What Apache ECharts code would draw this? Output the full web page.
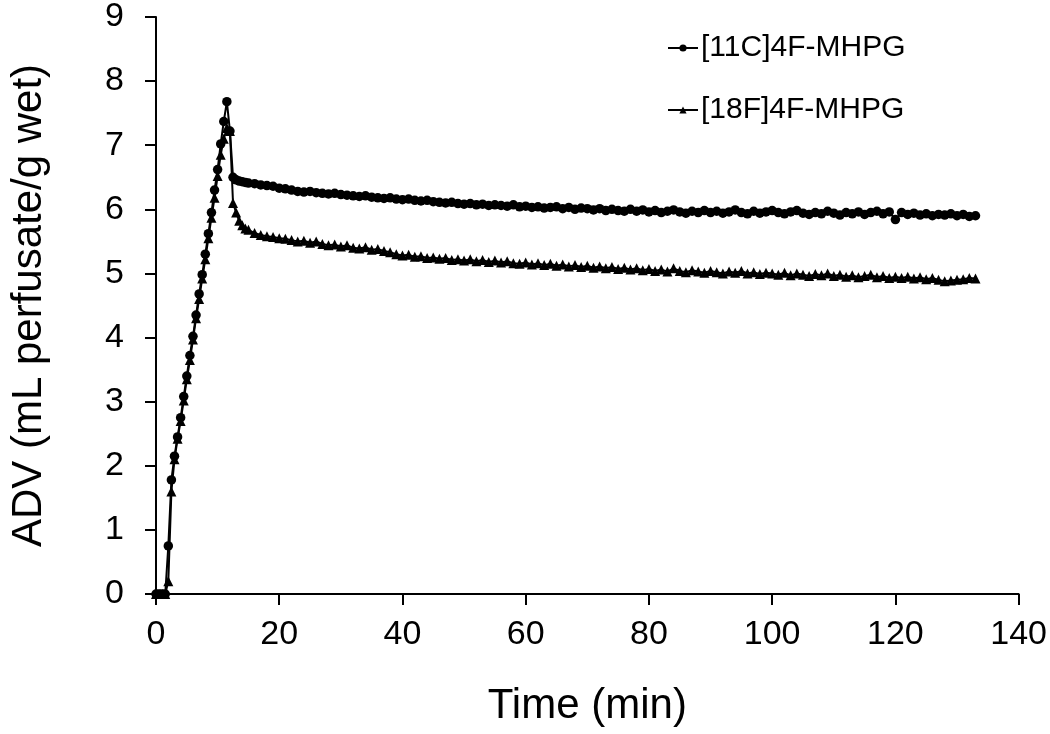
<!DOCTYPE html>
<html>
<head>
<meta charset="utf-8">
<script src="https://cdn.jsdelivr.net/npm/echarts@6/dist/echarts.min.js"></script>
<style>
html,body{margin:0;padding:0;background:#fff;}
#chart{width:1050px;height:734px;}
</style>
</head>
<body>
<div id="chart"></div>
<script>
// Time (min)
const times = [
  0,0.5,1,1.5,2,2.5,3,3.5,4,4.5,5,5.5,6,6.5,7,7.5,8,8.5,9,9.5,10,10.5,11,11.5,12,12.5,13,13.5,14,14.5,
  15,16,17,18,19,20,21,22,23,24,
  25,26,27,28,29,30,31,32,33,34,
  35,36,37,38,39,40,41,42,43,44,
  45,46,47,48,49,50,51,52,53,54,
  55,56,57,58,59,60,61,62,63,64,
  65,66,67,68,69,70,71,72,73,74,
  75,76,77,78,79,80,81,82,83,84,
  85,86,87,88,89,90,91,92,93,94,
  95,96,97,98,99,100,101,102,103,104,
  105,106,107,108,109,110,111,112,113,114,
  115,116,117,118,119,120,121,122,123,124,
  125,126,127,128,129,130,131,132,133
];
// [11C]4F-MHPG ADV
const c11 = [
  0,0,0,0,0.75,1.78,2.15,2.45,2.75,3.08,3.40,3.72,4.02,4.35,4.68,4.98,5.30,5.62,5.95,6.30,6.62,7.02,7.37,7.68,7.22,6.50,6.46,6.44,6.43,6.42,
  6.41,6.40,6.38,6.37,6.36,6.33,6.32,6.30,6.28,6.27,
  6.28,6.26,6.25,6.24,6.25,6.23,6.22,6.21,6.20,6.21,
  6.19,6.18,6.17,6.18,6.16,6.15,6.16,6.14,6.13,6.14,
  6.12,6.11,6.10,6.11,6.09,6.08,6.09,6.07,6.08,6.06,
  6.07,6.06,6.05,6.07,6.04,6.05,6.03,6.04,6.02,6.03,
  6.04,6.01,6.03,6.00,6.02,6.01,5.99,6.01,5.98,6.00,
  5.98,5.97,6.00,5.97,5.99,5.96,5.98,5.95,5.97,5.99,
  5.96,5.94,5.97,5.95,5.98,5.95,5.97,5.94,5.96,5.99,
  5.95,5.93,5.97,5.94,5.96,5.98,5.95,5.93,5.96,5.98,
  5.94,5.92,5.95,5.93,5.97,5.94,5.91,5.95,5.93,5.96,
  5.92,5.95,5.97,5.93,5.96,5.84,5.95,5.92,5.94,5.91,
  5.93,5.90,5.92,5.91,5.93,5.90,5.92,5.89,5.90
];
// [18F]4F-MHPG ADV
const f18 = [
  0,0,0,0,0.20,1.60,2.10,2.42,2.70,3.02,3.35,3.65,3.97,4.30,4.60,4.92,5.22,5.55,5.87,6.18,6.52,6.85,7.10,7.27,7.22,6.10,5.95,5.82,5.75,5.70,
  5.68,5.63,5.60,5.58,5.57,5.55,5.54,5.52,5.50,5.51,
  5.48,5.50,5.46,5.44,5.45,5.42,5.44,5.40,5.39,5.41,
  5.37,5.38,5.35,5.33,5.30,5.28,5.29,5.26,5.27,5.24,
  5.25,5.23,5.24,5.21,5.22,5.20,5.22,5.19,5.21,5.18,
  5.20,5.17,5.19,5.16,5.15,5.17,5.14,5.16,5.13,5.15,
  5.12,5.14,5.11,5.13,5.10,5.12,5.09,5.11,5.08,5.10,
  5.07,5.09,5.06,5.08,5.05,5.07,5.04,5.06,5.03,5.08,
  5.04,5.02,5.05,5.03,5.01,5.04,5.02,5.00,5.03,5.01,
  5.04,5.00,5.02,4.99,5.01,5.00,4.98,5.01,4.97,5.00,
  4.98,4.96,4.99,4.97,5.00,4.96,4.98,4.95,4.97,4.94,
  4.96,4.98,4.94,4.96,4.93,4.95,4.93,4.95,4.92,4.94,
  4.91,4.93,4.90,4.88,4.89,4.90,4.91,4.93,4.92
];
const seriesNames = ['[11C]4F-MHPG', '[18F]4F-MHPG'];
const xTitle = 'Time (min)';
const yTitle = 'ADV (mL perfusate/g wet)';

const FONT = 'Arial, "Liberation Sans", sans-serif';
const chart = echarts.init(document.getElementById('chart'), null, {renderer: 'canvas'});
const axisCommon = {
  axisLine: {show: true, onZero: false, lineStyle: {color: '#000', width: 2}},
  axisTick: {show: true, inside: false, length: 11, lineStyle: {color: '#000', width: 2}},
  splitLine: {show: false},
  nameTextStyle: {color: '#000', fontFamily: FONT, fontSize: 42},
  nameLocation: 'middle'
};
chart.setOption({
  animation: false,
  backgroundColor: '#fff',
  grid: {left: 154, right: 30, top: 15, bottom: 140, containLabel: false},
  legend: {
    orient: 'vertical',
    left: 662,
    top: 27,
    itemGap: 30,
    itemWidth: 30,
    itemHeight: 9,
    textStyle: {color: '#000', fontFamily: FONT, fontSize: 30, lineHeight: 32, padding: [0, 0, 0, -2]},
    data: seriesNames
  },
  xAxis: Object.assign({}, axisCommon, {
    type: 'value', min: 0, max: 140, interval: 20,
    name: xTitle, nameGap: 91,
    axisLabel: {color: '#000', fontFamily: FONT, fontSize: 34, margin: 24}
  }),
  yAxis: Object.assign({}, axisCommon, {
    type: 'value', min: 0, max: 9, interval: 1,
    name: yTitle, nameGap: 106,
    axisLabel: {color: '#000', fontFamily: FONT, fontSize: 34, margin: 32}
  }),
  series: [
    {
      name: seriesNames[0], type: 'line',
      data: times.map((t, i) => [t, c11[i]]),
      symbol: 'circle', symbolSize: 9.5,
      itemStyle: {color: '#000'},
      lineStyle: {color: '#000', width: 2},
      z: 3
    },
    {
      name: seriesNames[1], type: 'line',
      data: times.map((t, i) => [t, f18[i]]),
      symbol: 'triangle', symbolSize: 10,
      itemStyle: {color: '#000'},
      lineStyle: {color: '#000', width: 2},
      z: 2
    }
  ]
});
</script>
</body>
</html>
